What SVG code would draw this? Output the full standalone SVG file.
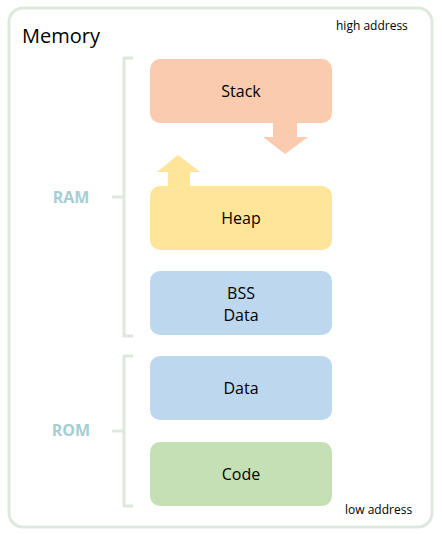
<svg xmlns="http://www.w3.org/2000/svg" width="442" height="534" viewBox="0 0 442 534">
<style>
.t{font-family:"Open Sans","Liberation Sans",sans-serif;fill:#000}
.box{stroke:none}
.lbl{font-family:"Open Sans","Liberation Sans",sans-serif;font-size:16px;text-anchor:middle;fill:#000}
.side{font-family:"Open Sans","Liberation Sans",sans-serif;font-size:16px;font-weight:bold;fill:#a5ced3;text-anchor:middle}
.br{fill:none;stroke:#dde9dd;stroke-width:3}
</style>
<rect x="9" y="8" width="423" height="519" rx="14" fill="#fff" stroke="#dde9dd" stroke-width="3"/>
<text class="t" x="22" y="43" font-size="20">Memory</text>
<text class="t" x="336" y="30" font-size="12">high address</text>
<text class="t" x="345" y="514" font-size="12">low address</text>
<g id="brackets">
<path class="br" d="M133 58 H124 V336 H133 M124 197 H112"/>
<path class="br" d="M133 356 H124 V506 H133 M124 431 H112"/>
<text class="side" x="71" y="203">RAM</text>
<text class="side" x="71" y="436">ROM</text>
</g>
<g id="connectors">
<polygon points="273,122 297,122 297,137 308,137 285,154 263,137 273,137" fill="#fbcbb0"/>
<polygon points="168,187 190,187 190,172 200,172 178,155 157,172 168,172" fill="#fee59a"/>
</g>
<g id="stack"><rect class="box" x="150" y="59" width="182" height="64" rx="10" fill="#fbcbb0"/><text class="lbl" x="241" y="97">Stack</text></g>
<g id="heap"><rect class="box" x="150" y="186" width="182" height="64" rx="10" fill="#fee59a"/><text class="lbl" x="241" y="224">Heap</text></g>
<g id="bss"><rect class="box" x="150" y="271" width="182" height="64" rx="10" fill="#bcd7ee"/><text class="lbl" x="241" y="299">BSS</text><text class="lbl" x="241" y="321">Data</text></g>
<g id="data"><rect class="box" x="150" y="356" width="182" height="64" rx="10" fill="#bcd7ee"/><text class="lbl" x="241" y="394">Data</text></g>
<g id="code"><rect class="box" x="150" y="442" width="182" height="64" rx="10" fill="#c4e0b4"/><text class="lbl" x="241" y="480">Code</text></g>
</svg>
